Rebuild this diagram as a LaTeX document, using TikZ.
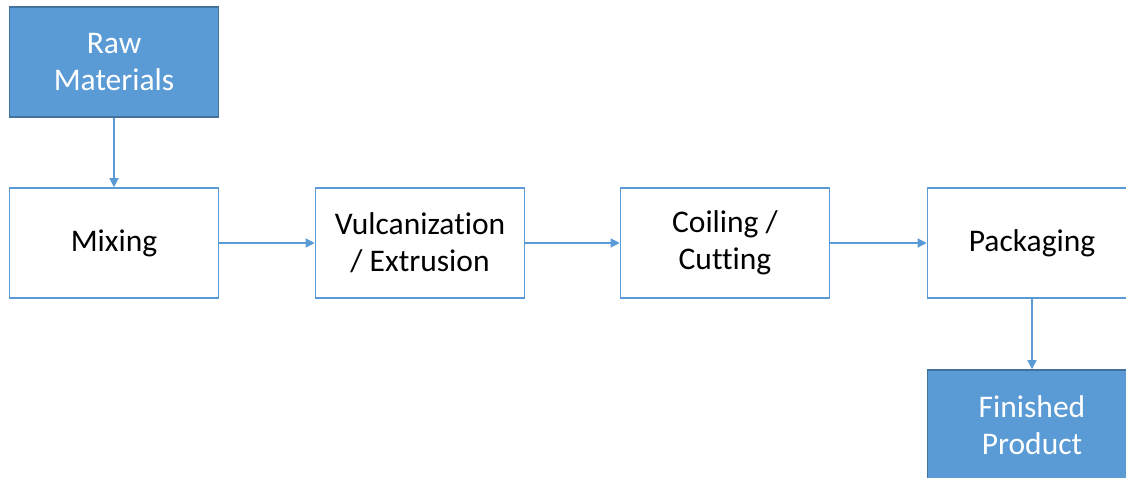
\documentclass[tikz,border=0pt]{standalone}
\usepackage{fontspec}
\setmainfont[Ligatures=NoCommon]{Carlito}
\usetikzlibrary{arrows.meta}
\definecolor{accent}{HTML}{5B9BD5}
\definecolor{accentdark}{HTML}{41719C}
\tikzset{
  procbox/.style={draw=accent, line width=1.6pt, fill=white, minimum width=209pt, minimum height=110pt,
    inner sep=0pt, align=center, font=\fontsize{31.5}{37}\selectfont, text=black},
  endbox/.style={procbox, draw=accentdark, fill=accent, text=white},
  flow/.style={draw=accent, line width=1.3pt, -{Triangle[length=9pt,width=9pt]}}
}
\begin{document}
\begin{tikzpicture}[x=1pt,y=-1pt]
\useasboundingbox (0,0) rectangle (1126,477);
\clip (0,0) rectangle (1126,477);
\node[endbox] (raw) at (114,62) {Raw\\Materials};
\node[procbox] (mix) at (114,243) {Mixing};
\node[procbox] (vul) at (420,243) {Vulcanization\\/ Extrusion};
\node[procbox] (coil) at (725,243) {Coiling /\\Cutting};
\node[procbox] (pack) at (1032,243) {Packaging};
\node[endbox] (fin) at (1032,425) {Finished\\Product};
\draw[flow] (raw) -- (mix);
\draw[flow] (mix) -- (vul);
\draw[flow] (vul) -- (coil);
\draw[flow] (coil) -- (pack);
\draw[flow] (pack) -- (fin);
\end{tikzpicture}
\end{document}
